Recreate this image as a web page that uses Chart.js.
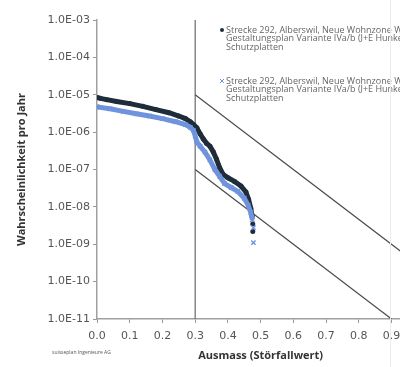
<!DOCTYPE html>
<html lang="de">
<head>
    <meta charset="UTF-8">
    <title>Risikodiagramm</title>
    <script src="https://cdn.jsdelivr.net/npm/chart.js"></script>
    <style>
        body {
            margin: 0;
            background: #fff;
            overflow: hidden;
        }
        #wrap {
            position: relative;
            width: 440px;
            height: 367px;
        }
        #edge {
            position: absolute;
            left: 390px;
            top: 0;
            width: 1px;
            height: 367px;
            background: #ececec;
        }
    </style>
</head>
<body>
    <div id="wrap">
        <canvas id="chart"></canvas>
        <div id="edge"></div>
    </div>

    <script>
        // Ausmass (Störfallwert) und Wahrscheinlichkeit pro Jahr
        let darkX = [0.000, 0.010, 0.030, 0.060, 0.100, 0.140, 0.180, 0.220, 0.250, 0.270, 0.285, 0.295, 0.305, 0.315, 0.325, 0.335, 0.345, 0.355, 0.365, 0.375, 0.385, 0.400, 0.420, 0.440, 0.455, 0.463, 0.470, 0.474, null, 0.476, null, 0.476];
        let darkY = [8.5e-6, 8.0e-6, 7.4e-6, 6.6e-6, 5.8e-6, 4.9e-6, 4.0e-6, 3.3e-6, 2.7e-6, 2.3e-6, 1.9e-6, 1.6e-6, 1.3e-6, 9e-7, 6.5e-7, 5e-7, 4.2e-7, 3e-7, 1.9e-7, 1.1e-7, 7.5e-8, 6e-8, 4.8e-8, 3.6e-8, 2.5e-8, 1.6e-8, 9e-9, 5.5e-9, null, 3.5e-9, null, 2.2e-9];

        let blueX = [0.000, 0.010, 0.040, 0.080, 0.120, 0.160, 0.200, 0.240, 0.270, 0.285, 0.295, 0.300, 0.305, 0.315, 0.330, 0.345, 0.360, 0.375, 0.390, 0.410, 0.430, 0.450, 0.462, 0.470, 0.475, null, 0.478, null, 0.478];
        let blueY = [4.8e-6, 4.6e-6, 4.2e-6, 3.6e-6, 3.1e-6, 2.7e-6, 2.3e-6, 1.9e-6, 1.6e-6, 1.35e-6, 1.1e-6, 8e-7, 5.5e-7, 4.2e-7, 2.9e-7, 1.8e-7, 1.0e-7, 6.5e-8, 4.2e-8, 3.3e-8, 2.6e-8, 1.7e-8, 1.1e-8, 7e-9, 4.5e-9, null, 2.8e-9, null, 1.1e-9];

        // Beurteilungslinien
        let upperX = [0.3, 1.0];
        let upperY = [1e-5, 2.15e-10];
        let lowerX = [0.3, 0.9];
        let lowerY = [1e-7, 1e-11];
        let vertX = [0.3, 0.3];
        let vertY = [1e-11, 1e-3];

        let yTicks = [1e-11, 1e-10, 1e-9, 1e-8, 1e-7, 1e-6, 1e-5, 1e-4, 1e-3];
        let legendLines = ["Strecke 292, Alberswil, Neue Wohnzone West,", "Gestaltungsplan Variante IVa/b (J+E Hunkeler),", "Schutzplatten"];
        let seriesLabel = legendLines.join(" ");

        function pts(xs, ys) {
            return xs.map((x, i) => ({ x: x, y: ys[i] }));
        }

        function expLabel(v) {
            let e = Math.round(Math.log10(v));
            return "1.0E" + (e < 0 ? "-" : "+") + String(Math.abs(e)).padStart(2, "0");
        }

        const DARK = "#1f2d3b";
        const BLUE = "#6f93dc";

        const extraText = {
            id: "extraText",
            afterDraw(chart) {
                let ctx = chart.ctx;
                ctx.save();
                // legend
                ctx.font = "9px 'Open Sans'";
                ctx.fillStyle = "#666";
                ctx.textBaseline = "middle";
                ctx.textAlign = "left";
                [30, 81].forEach(y0 => {
                    legendLines.forEach((t, i) => ctx.fillText(t, 226, y0 + i * 8.5));
                });
                ctx.fillStyle = DARK;
                ctx.beginPath();
                ctx.arc(222, 30, 2, 0, Math.PI * 2);
                ctx.fill();
                ctx.strokeStyle = BLUE;
                ctx.lineWidth = 1;
                ctx.beginPath();
                ctx.moveTo(220, 79); ctx.lineTo(224, 83);
                ctx.moveTo(224, 79); ctx.lineTo(220, 83);
                ctx.stroke();
                // footer
                ctx.font = "5px 'Open Sans'";
                ctx.fillStyle = "#555";
                ctx.fillText("suisseplan Ingenieure AG", 52, 353);
                ctx.restore();
            }
        };

        new Chart(document.getElementById("chart"), {
            type: "scatter",
            data: {
                datasets: [
                    {
                        label: seriesLabel,
                        data: pts(blueX, blueY),
                        showLine: true,
                        borderColor: BLUE,
                        borderWidth: 5,
                        backgroundColor: BLUE,
                        pointStyle: "crossRot",
                        pointRadius: 3,
                        pointBorderWidth: 1.5,
                        pointBorderColor: BLUE,
                        order: 0
                    },
                    {
                        label: seriesLabel,
                        data: pts(darkX, darkY),
                        showLine: true,
                        borderColor: DARK,
                        borderWidth: 5,
                        backgroundColor: DARK,
                        pointStyle: "circle",
                        pointRadius: 2.5,
                        pointBorderWidth: 0,
                        order: 1
                    },
                    {
                        data: pts(upperX, upperY),
                        showLine: true,
                        borderColor: "#4a4a4a",
                        borderWidth: 1.2,
                        pointRadius: 0,
                        order: 2
                    },
                    {
                        data: pts(lowerX, lowerY),
                        showLine: true,
                        borderColor: "#4a4a4a",
                        borderWidth: 1.2,
                        pointRadius: 0,
                        order: 2
                    },
                    {
                        data: pts(vertX, vertY),
                        showLine: true,
                        borderColor: "#6a6a6a",
                        borderWidth: 1.2,
                        pointRadius: 0,
                        order: 2
                    }
                ]
            },
            options: {
                responsive: true,
                maintainAspectRatio: false,
                animation: false,
                layout: { padding: { left: 0, top: 20, right: 15, bottom: 0 } },
                plugins: {
                    legend: { display: false },
                    tooltip: { enabled: false }
                },
                scales: {
                    x: {
                        type: "linear",
                        min: 0,
                        max: 1.0,
                        ticks: {
                            stepSize: 0.1,
                            padding: 7,
                            color: "#555",
                            font: { family: "DejaVu Sans", size: 11 },
                            callback: v => v.toFixed(1)
                        },
                        grid: { drawOnChartArea: false, drawTicks: true, tickLength: 4, color: "#999" },
                        border: { display: true, color: "#a0a0a0", width: 1.5 },
                        title: {
                            display: true,
                            text: "Ausmass (Störfallwert)",
                            color: "#333",
                            font: { family: "Open Sans", size: 11, weight: "bold" },
                            padding: { top: 0, bottom: 5 }
                        },
                        afterFit: s => { s.height = 48; }
                    },
                    y: {
                        type: "logarithmic",
                        min: 1e-11,
                        max: 1e-3,
                        afterBuildTicks: s => { s.ticks = yTicks.map(v => ({ value: v })); },
                        ticks: {
                            padding: 3,
                            color: "#555",
                            font: { family: "DejaVu Sans", size: 11 },
                            callback: v => expLabel(v)
                        },
                        grid: { drawOnChartArea: false, drawTicks: true, tickLength: 4, color: "#999" },
                        border: { display: true, color: "#a0a0a0", width: 1.5 },
                        title: {
                            display: true,
                            text: "Wahrscheinlichkeit pro Jahr",
                            color: "#333",
                            font: { family: "Open Sans", size: 11, weight: "bold" },
                            padding: { top: 15, bottom: 0 }
                        },
                        afterFit: s => { s.width = 97; }
                    }
                }
            },
            plugins: [extraText]
        });
    </script>
</body>
</html>
